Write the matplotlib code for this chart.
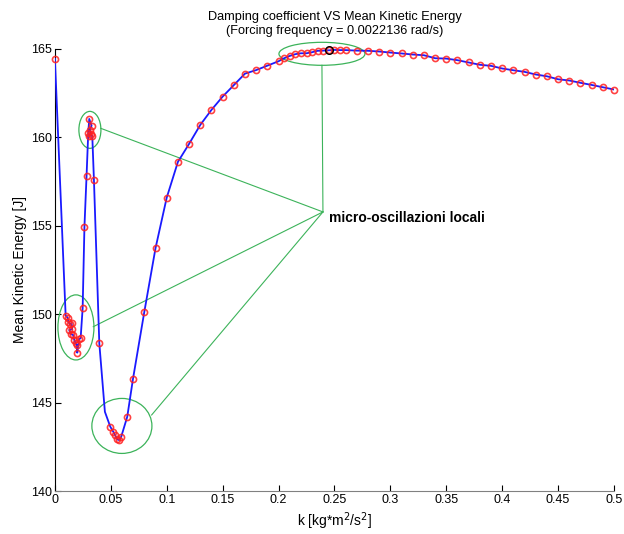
import numpy as np
import matplotlib
matplotlib.use('Agg')
import matplotlib.pyplot as plt
from matplotlib.patches import Ellipse

plt.rcParams['font.family'] = ['Liberation Sans', 'DejaVu Sans']

# Damping coefficient k and mean kinetic energy (sampled points, in plot order)
k = [0.0, 0.0096, 0.0114, 0.0119, 0.0134, 0.0149, 0.0155, 0.0128, 0.0140, 0.0164,
     0.0173, 0.0185, 0.0194, 0.0200, 0.0215, 0.0230, 0.0248, 0.0264, 0.0283, 0.0298,
     0.0307, 0.0328, 0.0313, 0.0322, 0.0307, 0.0334, 0.0349, 0.0397, 0.0495, 0.0522,
     0.0537, 0.0557, 0.0575, 0.0593, 0.0647, 0.0698, 0.0799, 0.09, 0.10, 0.11,
     0.12, 0.13, 0.14, 0.15, 0.16, 0.17, 0.18, 0.19, 0.20, 0.205,
     0.21, 0.215, 0.22, 0.225, 0.23, 0.235, 0.24, 0.245, 0.25, 0.255,
     0.26, 0.27, 0.28, 0.29, 0.30, 0.31, 0.32, 0.33, 0.34, 0.35,
     0.36, 0.37, 0.38, 0.39, 0.40, 0.41, 0.42, 0.43, 0.44, 0.45,
     0.46, 0.47, 0.48, 0.49, 0.50]
E = [164.43, 149.92, 149.80, 149.58, 149.43, 149.49, 149.15, 149.11, 148.88, 148.82,
     148.54, 148.35, 148.26, 147.82, 148.58, 148.64, 150.33, 154.93, 157.82, 160.23,
     161.04, 160.66, 160.42, 160.17, 160.10, 160.10, 157.59, 148.35, 143.64, 143.35,
     143.17, 142.92, 142.88, 143.07, 144.20, 146.33, 150.11, 153.74, 156.59, 158.61,
     159.63, 160.70, 161.55, 162.30, 162.95, 163.60, 163.80, 164.05, 164.30, 164.47,
     164.60, 164.70, 164.75, 164.75, 164.81, 164.89, 164.90, 164.92, 164.94, 164.93,
     164.93, 164.90, 164.89, 164.85, 164.79, 164.74, 164.68, 164.64, 164.47, 164.45,
     164.36, 164.23, 164.10, 164.04, 163.89, 163.79, 163.70, 163.55, 163.45, 163.28,
     163.21, 163.08, 162.96, 162.83, 162.70]

# extra line vertex (no marker) where the curve bends before the minimum
kink_k, kink_E = 0.0447, 144.48
k_line = np.insert(np.array(k), 28, kink_k)
E_line = np.insert(np.array(E), 28, kink_E)

# highlighted maximum
k_max, E_max = 0.245, 164.92

xticks = [0, 0.05, 0.1, 0.15, 0.2, 0.25, 0.3, 0.35, 0.4, 0.45, 0.5]
xticklabels = ['0', '0.05', '0.1', '0.15', '0.2', '0.25', '0.3', '0.35', '0.4', '0.45', '0.5']
yticks = [140, 145, 150, 155, 160, 165]

# ellipses around the local oscillations: (center k, center E, width, height)
circles = [(0.2388, 164.72, 0.0769, 1.3),
           (0.0313, 160.42, 0.0197, 2.09),
           (0.0188, 149.25, 0.0322, 3.68),
           (0.0599, 143.68, 0.0537, 3.11)]
# where each pointer line leaves its ellipse
line_starts = [(0.2388, 164.07), (0.0409, 160.51), (0.0343, 149.29), (0.0865, 144.30)]
hub = (0.2397, 155.78)

fig = plt.figure(figsize=(6.24, 5.34), dpi=100)
ax = fig.add_axes([0.088, 0.0805, 0.896, 0.828])

ax.plot(k_line, E_line, color='#1a1aff', linewidth=1.3, zorder=3)
ax.plot(k, E, linestyle='none', marker='o', markersize=4.4, markerfacecolor='none',
        markeredgecolor='#ff2020', markeredgewidth=1.2, alpha=0.85, zorder=4, clip_on=False)
ax.plot([k_max], [E_max], linestyle='none', marker='o', markersize=5.5,
        markerfacecolor='none', markeredgecolor='black', markeredgewidth=1.0, zorder=5,
        clip_on=False)

green = '#3cb35a'
for cx, cy, w, h in circles:
    ax.add_patch(Ellipse((cx, cy), w, h, fill=False, edgecolor=green, linewidth=0.9,
                         zorder=2, clip_on=False))
for sx, sy in line_starts:
    ax.plot([sx, hub[0]], [sy, hub[1]], color=green, linewidth=0.8, zorder=2)
ax.text(hub[0] + 0.0055, hub[1] - 0.35, 'micro-oscillazioni locali', fontsize=10,
        fontweight='bold', va='center', ha='left')

ax.set_xlim(0, 0.5)
ax.set_ylim(140, 165)
ax.set_xticks(xticks)
ax.set_xticklabels(xticklabels)
ax.set_yticks(yticks)
ax.tick_params(direction='in', length=4, labelsize=9, width=0.8, pad=2)
ax.spines['top'].set_visible(False)
ax.spines['right'].set_visible(False)
ax.spines['bottom'].set_color('#808080')
ax.spines['left'].set_color('black')

ax.set_title('Damping coefficient VS Mean Kinetic Energy\n(Forcing frequency = 0.0022136 rad/s)',
             fontsize=9.2, pad=11, linespacing=1.2)
ax.set_xlabel('k [kg*m$^2$/s$^2$]', fontsize=10, labelpad=3)
ax.set_ylabel('Mean Kinetic Energy [J]', fontsize=10, labelpad=3)

fig.savefig('out.png', dpi=100)
